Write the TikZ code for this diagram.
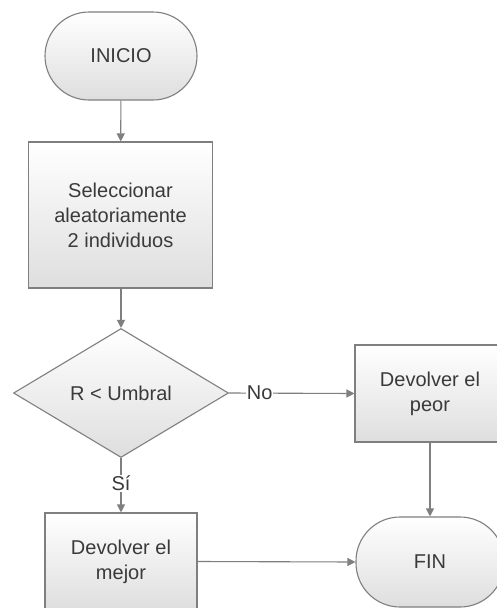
\documentclass[tikz,border=0pt]{standalone}
\usepackage{fontspec}
\setmainfont{Liberation Sans}
\usetikzlibrary{shapes.geometric,arrows.meta}
\definecolor{edgegrey}{HTML}{7F7F7F}
\definecolor{txtgrey}{HTML}{3A3A3A}
\definecolor{shadegrey}{HTML}{DEDEDE}
\begin{document}
\begin{tikzpicture}[x=1pt,y=-1pt,
  every node/.style={font=\fontsize{20}{25}\selectfont, text=txtgrey},
  boxbase/.style={draw=edgegrey, line width=1.1pt, top color=white, bottom color=shadegrey, align=center, inner sep=0pt},
  termbox/.style={boxbase, rectangle, rounded corners=44pt},
  procbox/.style={boxbase, rectangle},
  decbox/.style={boxbase, diamond, aspect=1.667},
  conn/.style={draw=edgegrey, line width=1.1pt, -{Triangle[length=8pt,width=8pt]}},
  lbl/.style={fill=white, inner sep=1pt}
]
\useasboundingbox (0,0) rectangle (497,608);
\clip (0,0) rectangle (497,608);
\fill[white] (0,0) rectangle (497,608);
\node[termbox, minimum width=152pt, minimum height=88pt] (ini) at (121,56) {INICIO};
\node[procbox, minimum width=184pt, minimum height=146pt] (sel) at (120.5,215) {Seleccionar\\aleatoriamente\\2 individuos};
\node[decbox, minimum width=215pt, minimum height=129pt] (dec) at (121,393) {R < Umbral};
\node[procbox, minimum width=150pt, minimum height=97pt] (peor) at (430,393.5) {Devolver el\\peor};
\node[procbox, minimum width=152pt, minimum height=97pt] (mejor) at (121,561.5) {Devolver el\\mejor};
\node[termbox, minimum width=148pt, minimum height=90pt] (fin) at (430,562) {FIN};
\draw[conn] (ini) -- (sel);
\draw[conn] (sel.south -| ini) -- (dec.north);
\draw[conn] (dec.east) -- node[lbl, pos=0.244] {No} (peor.west);
\draw[conn] (dec.south) -- node[lbl, pos=0.46] {Sí} (mejor.north);
\draw[conn] (peor.south) -- (fin.north);
\draw[conn] (mejor.east) -- (fin.west);
\end{tikzpicture}
\end{document}
